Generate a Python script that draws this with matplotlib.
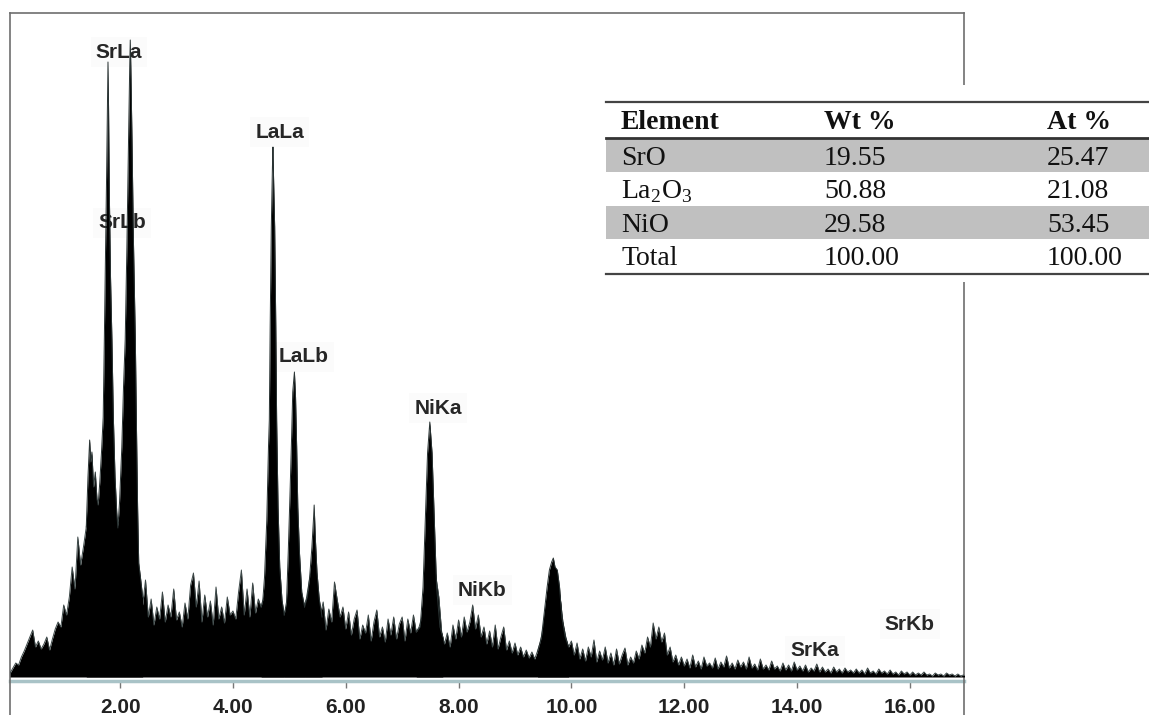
import matplotlib
matplotlib.use('Agg')
import matplotlib.pyplot as plt
import numpy as np
from matplotlib.patches import Rectangle

plt.rcParams['mathtext.fontset'] = 'custom'
plt.rcParams['mathtext.rm'] = 'Liberation Serif'

# background channels, one every 0.05 keV starting at 0.05 keV (counts)
bg_step = 0.05
bg_counts = [
    4, 9, 14, 12, 20, 26, 33, 40, 47, 30, 36, 28, 33, 40, 27, 38, 48, 55, 50, 72,
    62, 80, 110, 88, 140, 112, 130, 150, 170, 180, 170, 165, 175, 190, 190, 180, 170, 160, 150, 160,
    170, 180, 180, 170, 150, 120, 100, 72, 97, 60, 78, 52, 70, 58, 85, 55, 72, 60, 88, 57,
    65, 50, 74, 58, 92, 104, 70, 96, 55, 82, 60, 76, 52, 90, 58, 70, 54, 80, 62, 66,
    58, 85, 107, 62, 88, 60, 94, 64, 78, 70, 80, 95, 100, 100, 100, 90, 75, 62, 70, 90,
    100, 100, 100, 85, 70, 78, 95, 110, 110, 90, 62, 75, 47, 68, 55, 95, 77, 60, 70, 48,
    65, 42, 58, 67, 38, 52, 44, 62, 36, 55, 67, 40, 50, 35, 58, 42, 60, 38, 53, 60,
    36, 58, 44, 62, 45, 50, 60, 80, 100, 120, 120, 100, 80, 45, 33, 44, 30, 52, 38, 57,
    40, 60, 45, 55, 72, 48, 62, 40, 50, 33, 46, 30, 52, 28, 40, 50, 27, 36, 24, 34,
    22, 30, 20, 27, 19, 25, 18, 26, 35, 50, 70, 90, 100, 100, 95, 80, 55, 40, 30, 36,
    22, 34, 18, 28, 16, 30, 20, 37, 15, 26, 17, 30, 14, 24, 12, 28, 13, 22, 29, 12,
    20, 14, 26, 18, 32, 24, 40, 30, 54, 38, 50, 35, 44, 22, 30, 15, 22, 12, 20, 11,
    18, 9, 22, 10, 16, 8, 20, 11, 14, 9, 19, 8, 15, 10, 21, 9, 14, 8, 17, 10,
    15, 8, 20, 9, 13, 7, 18, 8, 12, 7, 16, 8, 11, 6, 14, 7, 12, 6, 15, 7,
    11, 6, 12, 5, 9, 6, 13, 5, 10, 5, 8, 4, 10, 5, 8, 4, 9, 5, 7, 4,
    8, 4, 7, 3, 9, 4, 6, 3, 8, 4, 6, 3, 7, 3, 5, 2, 6, 3, 5, 2,
    5, 2, 4, 2, 5, 2, 3, 1, 4, 2, 3, 1, 4, 2, 3, 1, 3, 1, 2, 1,
]

# peak profiles (keV, counts)
sr_l_e = [1.40, 1.43, 1.46, 1.48, 1.50, 1.53, 1.56, 1.59, 1.61, 1.64,
          1.67, 1.70, 1.72, 1.74, 1.76, 1.775, 1.785, 1.795, 1.81, 1.83,
          1.855, 1.88, 1.91, 1.94, 1.96, 1.99, 2.03, 2.06, 2.09, 2.12,
          2.15, 2.17, 2.18, 2.19, 2.21, 2.235, 2.27, 2.29, 2.31, 2.33,
          2.36, 2.40]
sr_l_c = [150, 200, 237, 215, 225, 190, 205, 178, 172, 195,
          225, 260, 337, 420, 500, 570, 615, 570, 480, 400,
          337, 260, 200, 165, 149, 175, 230, 290, 337, 430,
          540, 610, 637, 610, 540, 440, 337, 250, 170, 114,
          100, 80]
la_la_e = [4.50, 4.53, 4.56, 4.60, 4.63, 4.645, 4.66, 4.68, 4.70, 4.71,
           4.72, 4.74, 4.76, 4.775, 4.80, 4.83, 4.87, 4.91]
la_la_c = [70, 77, 100, 157, 230, 257, 350, 450, 510, 530,
           500, 450, 350, 257, 170, 110, 77, 62]
la_lb_e = [4.91, 4.95, 4.98, 5.01, 5.04, 5.06, 5.09, 5.11, 5.13, 5.15, 5.18, 5.22, 5.27]
la_lb_c = [62, 75, 124, 180, 240, 285, 305, 280, 230, 170, 124, 85, 70]
la_lg_e = [5.27, 5.32, 5.36, 5.40, 5.43, 5.44, 5.46, 5.49, 5.53, 5.58]
la_lg_c = [70, 80, 100, 130, 160, 172, 140, 105, 78, 60]
ni_ka_e = [7.25, 7.32, 7.37, 7.41, 7.45, 7.49, 7.53, 7.57, 7.61, 7.67, 7.72]
ni_ka_c = [45, 50, 90, 157, 224, 255, 224, 157, 90, 50, 40]
p97_e = [9.40, 9.47, 9.53, 9.57, 9.61, 9.65, 9.68, 9.71, 9.75, 9.79, 9.83, 9.89, 9.95]
p97_c = [25, 40, 70, 90, 107, 115, 119, 110, 107, 90, 60, 40, 30]

peak_labels = ["SrLa", "SrLb", "LaLa", "LaLb", "NiKa", "NiKb", "SrKa", "SrKb"]
label_kev = [1.98, 2.03, 4.83, 5.26, 7.64, 8.42, 14.32, 16.00]
label_cnt = [625, 454, 545, 320, 269, 87, 26, 53]

tick_kev = [2, 4, 6, 8, 10, 12, 14, 16]

table_head = ["Element", "Wt %", "At %"]
table_elem = ["SrO", r"La$_\mathrm{2}$O$_\mathrm{3}$", "NiO", "Total"]
table_wt = ["19.55", "50.88", "29.58", "100.00"]
table_at = ["25.47", "21.08", "53.45", "100.00"]

W, H = 1149, 715
fig = plt.figure(figsize=(W / 100, H / 100), dpi=100, facecolor='white')

# spectrum axes (1 count = 1 px vertically)
ax = fig.add_axes([10 / W, 0, 954 / W, 702 / H])
ax.set_xlim(0.048, 16.96)
ax.set_ylim(-38, 664)
ax.set_xticks([])
ax.set_yticks([])
ax.spines['bottom'].set_visible(False)
for s in ['left', 'top', 'right']:
    ax.spines[s].set_color('#6e6e6e')
    ax.spines[s].set_linewidth(1.2)

bg_e = np.arange(1, len(bg_counts) + 1) * bg_step
ax.fill_between(bg_e, 0, bg_counts, color='black', lw=0, zorder=3)
ax.plot(bg_e, bg_counts, color='#3c4848', lw=0.7, zorder=3)
for e, c in [(sr_l_e, sr_l_c), (la_la_e, la_la_c), (la_lb_e, la_lb_c),
             (la_lg_e, la_lg_c), (ni_ka_e, ni_ka_c), (p97_e, p97_c)]:
    ax.fill_between(e, 0, c, color='black', lw=0, zorder=4)
    ax.plot(e, c, color='#2a3434', lw=0.7, zorder=4)

for name, xk, yc in zip(peak_labels, label_kev, label_cnt):
    ax.text(xk, yc, name, ha='center', va='center', fontsize=15, fontweight='bold',
            family='Liberation Sans', color='#262626', zorder=2,
            bbox=dict(boxstyle='square,pad=0.25', fc='#fbfbfb', ec='none'))

# energy axis drawn just under the spectrum
secax = ax.secondary_xaxis(34 / 702)
secax.set_xticks(tick_kev)
secax.set_xticklabels([f"{t:.2f}" for t in tick_kev], fontsize=15, fontweight='bold',
                      family='Liberation Sans', color='#222222')
secax.tick_params(direction='out', length=5, width=1, color='#777777', pad=7)
secax.spines['bottom'].set_color('#a9c3c7')
secax.spines['bottom'].set_linewidth(2.5)

# composition table (pixel coordinates)
tax = fig.add_axes([0, 0, 1, 1], zorder=5)
tax.set_xlim(0, W)
tax.set_ylim(H, 0)
tax.axis('off')
tax.patch.set_alpha(0)
tax.add_patch(Rectangle((605, 85), W - 605, 197, fc='white', ec='none'))
row_top = [139, 172, 206, 239]
row_h = [33, 34, 33, 35]
for i in range(4):
    if i % 2 == 0:
        tax.add_patch(Rectangle((606, row_top[i]), W - 606, row_h[i], fc='#c0c0c0', ec='none'))
tax.plot([606, W], [102, 102], color='#444444', lw=1.6)
tax.plot([606, W], [138, 138], color='#333333', lw=2.0)
tax.plot([606, W], [274, 274], color='#444444', lw=1.6)

col_x = [621, 824, 1047]
for x, h in zip(col_x, table_head):
    tax.text(x, 129, h, ha='left', va='baseline', fontsize=20, fontweight='bold',
             family='Liberation Serif', color='#111111')
base_y = [165, 198, 232, 265]
for i in range(4):
    for x, v in zip(col_x, [table_elem[i], table_wt[i], table_at[i]]):
        tax.text(x, base_y[i], v, ha='left', va='baseline', fontsize=20,
                 family='Liberation Serif', color='#111111')

fig.savefig('out.png', dpi=100, facecolor='white')
